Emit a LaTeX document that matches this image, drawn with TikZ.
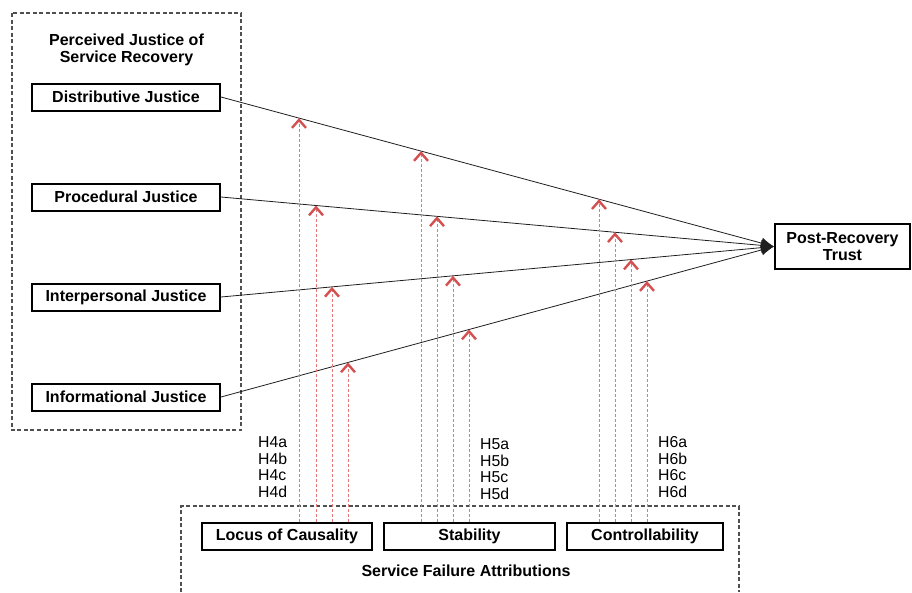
\documentclass[tikz,border=0pt]{standalone}
\usepackage{fontspec}
\setmainfont{Liberation Sans}
\usetikzlibrary{arrows.meta}
\definecolor{jdark}{RGB}{30,30,30}
\definecolor{dgray}{RGB}{80,80,80}
\definecolor{rhead}{RGB}{212,80,80}
\definecolor{rdash}{RGB}{228,120,120}
\newcommand{\bigfont}{\fontsize{16}{17}\selectfont}
\tikzset{
  jbox/.style={draw=black, line width=2pt, fill=white, inner sep=0pt, minimum height=27pt, font=\bigfont\bfseries, align=center},
  grpbox/.style={draw=dgray, line width=1.2pt, dash pattern=on 4pt off 2.5pt},
  jline/.style={draw=jdark, line width=0.8pt, -{Latex[length=13pt,width=11pt]}},
  rarrow/.style={draw=rdash, line width=0.7pt, dash pattern=on 3pt off 2pt, -{Straight Barb[length=8pt,width=14pt,line width=2.4pt,color=rhead]}},
  hlabel/.style={anchor=west, inner sep=0pt, align=left, font=\fontsize{15.8}{16.7}\selectfont},
  ttl/.style={inner sep=0pt, align=center, font=\bigfont\bfseries}
}
\begin{document}
\begin{tikzpicture}[x=1pt,y=-1pt]
\useasboundingbox (0,0) rectangle (912,592);
% group boxes
\draw[grpbox] (12,13) rectangle (241,430);
\draw[grpbox] (181,592) -- (181,506) -- (739,506) -- (739,592);
\node[ttl] (ttlA) at (126.5,49.5) {Perceived Justice of\\Service Recovery};
\node[ttl] (ttlB) at (466,571) {Service Failure Attributions};
% justice nodes
\node[jbox, minimum width=188pt] (dist) at (126,97) {Distributive Justice};
\node[jbox, minimum width=188pt] (proc) at (126,197) {Procedural Justice};
\node[jbox, minimum width=188pt] (inter) at (126,297) {Interpersonal Justice};
\node[jbox, minimum width=188pt] (info) at (126,397) {Informational Justice};
\node[jbox, minimum width=135pt, minimum height=45pt] (trust) at (842.5,246.5) {Post-Recovery\\Trust};
% attribution nodes
\node[jbox, minimum width=170pt] (loc) at (287,536.5) {Locus of Causality};
\node[jbox, minimum width=171pt] (stab) at (469.5,536.5) {Stability};
\node[jbox, minimum width=156pt] (ctrl) at (645,536.5) {Controllability};
% main lines
\draw[jline] (dist.east) -- (trust.west);
\draw[jline] (proc.east) -- (trust.west);
\draw[jline] (inter.east) -- (trust.west);
\draw[jline] (info.east) -- (trust.west);
% intersections
\coordinate (l1) at (intersection of dist.east--trust.west and {299,0}--{299,600});
\coordinate (l2) at (intersection of proc.east--trust.west and {316,0}--{316,600});
\coordinate (l3) at (intersection of inter.east--trust.west and {332,0}--{332,600});
\coordinate (l4) at (intersection of info.east--trust.west and {348,0}--{348,600});
\coordinate (s1) at (intersection of dist.east--trust.west and {421,0}--{421,600});
\coordinate (s2) at (intersection of proc.east--trust.west and {437,0}--{437,600});
\coordinate (s3) at (intersection of inter.east--trust.west and {453,0}--{453,600});
\coordinate (s4) at (intersection of info.east--trust.west and {469,0}--{469,600});
\coordinate (c1) at (intersection of dist.east--trust.west and {599,0}--{599,600});
\coordinate (c2) at (intersection of proc.east--trust.west and {615,0}--{615,600});
\coordinate (c3) at (intersection of inter.east--trust.west and {631,0}--{631,600});
\coordinate (c4) at (intersection of info.east--trust.west and {647,0}--{647,600});
% moderating arrows
\foreach \p in {l1,l2,l3,l4}{\draw[rarrow] (\p |- loc.north) -- (\p);}
\foreach \p in {s1,s2,s3,s4}{\draw[rarrow] (\p |- stab.north) -- (\p);}
\foreach \p in {c1,c2,c3,c4}{\draw[rarrow] (\p |- ctrl.north) -- (\p);}
% hypothesis labels
\node[hlabel] (h4) at (258,467) {H4a\\H4b\\H4c\\H4d};
\node[hlabel] (h5) at (480,469) {H5a\\H5b\\H5c\\H5d};
\node[hlabel] (h6) at (658,467) {H6a\\H6b\\H6c\\H6d};
\end{tikzpicture}
\end{document}
